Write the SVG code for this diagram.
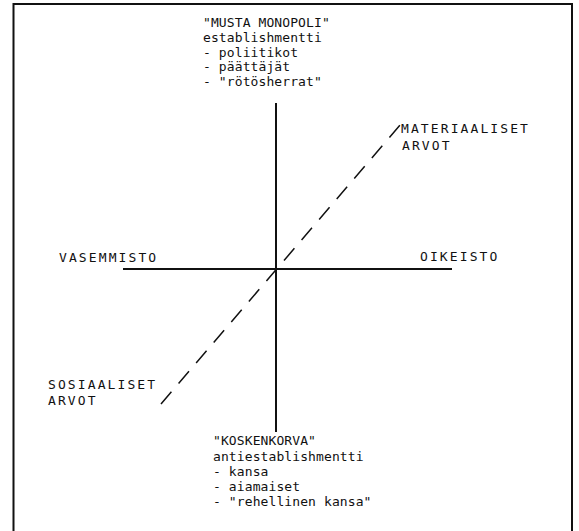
<svg xmlns="http://www.w3.org/2000/svg" width="579" height="531" viewBox="0 0 579 531">
<style>
.t{font-family:"DejaVu Sans Mono","Liberation Mono",monospace;font-size:13px;fill:#111;letter-spacing:0.1px}
.l{font-family:"DejaVu Sans Mono","Liberation Mono",monospace;font-size:13px;fill:#111;letter-spacing:2.1px}
.ax{stroke:#111;stroke-width:2;fill:none}
.dash{stroke:#111;stroke-width:1.5;stroke-dasharray:16 11;fill:none}
</style>
<rect width="579" height="531" fill="#fff"/>
<path d="M13.5 540 V4 H572 V540" fill="none" stroke="#111" stroke-width="2"/>
<g id="connectors">
<line class="ax" x1="276" y1="103" x2="276" y2="432"/>
<line class="ax" x1="123" y1="269" x2="452" y2="269"/>
<line class="dash" x1="161" y1="404" x2="401" y2="124"/>
</g>
<g id="top">
<text class="t" x="203" y="27">"MUSTA MONOPOLI"</text>
<text class="t" x="203" y="42">establishmentti</text>
<text class="t" x="203" y="57">- poliitikot</text>
<text class="t" x="203" y="71">- päättäjät</text>
<text class="t" x="203" y="86">- "rötösherrat"</text>
</g>
<g id="materiaaliset">
<text class="l" x="401" y="133">MATERIAALISET</text>
<text class="l" x="402" y="150">ARVOT</text>
</g>
<g id="vasemmisto">
<text class="l" x="59" y="262">VASEMMISTO</text>
</g>
<g id="oikeisto">
<text class="l" x="420" y="261">OIKEISTO</text>
</g>
<g id="sosiaaliset">
<text class="l" x="48" y="389">SOSIAALISET</text>
<text class="l" x="48" y="405">ARVOT</text>
</g>
<g id="bottom">
<text class="t" x="213" y="445">"KOSKENKORVA"</text>
<text class="t" x="213" y="461">antiestablishmentti</text>
<text class="t" x="213" y="476">- kansa</text>
<text class="t" x="213" y="491">- aiamaiset</text>
<text class="t" x="213" y="506">- "rehellinen kansa"</text>
</g>
</svg>
